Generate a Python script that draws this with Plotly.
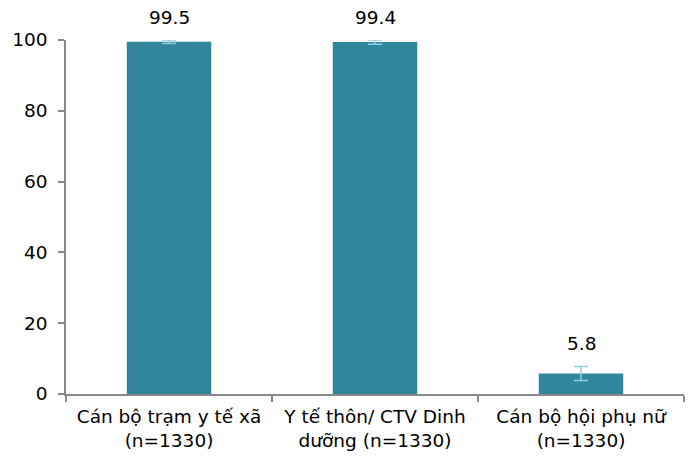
import plotly.graph_objects as go

categories = ["Cán bộ trạm y tế xã<br>(n=1330)",
              "Y tế thôn/ CTV Dinh<br>dưỡng (n=1330)",
              "Cán bộ hội phụ nữ<br>(n=1330)"]
values = [99.5, 99.4, 5.8]
errors = [0.5, 0.6, 2.0]
y_ticks = [0, 20, 40, 60, 80, 100]

BAR_COLOR = "#31859C"
ERR_COLOR = "#93CDDD"
AXIS_COLOR = "#898989"
FONT = "DejaVu Sans, Liberation Sans, Arial, sans-serif"
FS = 18.5

fig = go.Figure()
fig.add_trace(go.Bar(
    x=categories, y=values, width=0.41,
    marker=dict(color=BAR_COLOR, line=dict(width=0)),
    error_y=dict(type="data", array=errors, visible=True,
                 color=ERR_COLOR, thickness=1.5, width=7),
))

for c, v, e in zip(categories, values, errors):
    fig.add_annotation(x=c, y=v + e, text=f"{v:.1f}", showarrow=False,
                       yanchor="bottom", yshift=10,
                       font=dict(family=FONT, size=FS, color="#000000"))

# page body adds ~8px offset, so figure is sized to fit the window
fig.update_layout(
    width=687, height=453,
    margin=dict(l=58, r=11, t=32, b=67),
    paper_bgcolor="white", plot_bgcolor="white",
    showlegend=False,
    font=dict(family=FONT, size=FS, color="#000000"),
)
fig.update_xaxes(
    showline=True, linecolor=AXIS_COLOR, linewidth=1.5,
    ticks="outside", tickson="boundaries", ticklen=6, tickcolor=AXIS_COLOR, tickwidth=1.5,
    showgrid=False, ticklabelstandoff=5, automargin=False,
    tickfont=dict(family=FONT, size=FS, color="#000000"),
)
fig.update_yaxes(
    range=[0, 100], tickvals=y_ticks, showline=True, linecolor=AXIS_COLOR, linewidth=1.5,
    ticks="outside", ticklen=6, tickcolor=AXIS_COLOR, tickwidth=1.5,
    showgrid=False, zeroline=False, ticklabelstandoff=7, automargin=False,
    tickfont=dict(family=FONT, size=FS, color="#000000"),
)

fig.write_html("out.html")
